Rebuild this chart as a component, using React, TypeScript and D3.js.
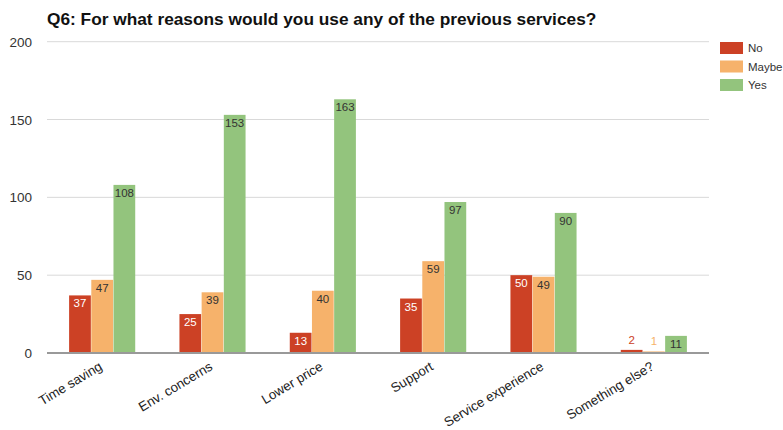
import React from "react";
import * as d3 from "d3";

const categories = ["Time saving", "Env. concerns", "Lower price", "Support", "Service experience", "Something else?"];
const seriesNames = ["No", "Maybe", "Yes"];
const noValues = [37, 25, 13, 35, 50, 2];
const maybeValues = [47, 39, 40, 59, 49, 1];
const yesValues = [108, 153, 163, 97, 90, 11];
const yTicks = [0, 50, 100, 150, 200];
const colors = ["#cc4125", "#f6b26b", "#93c47d"];
const labelColorsInside = ["#ffffff", "#333333", "#333333"];

export default function App() {
  const W = 783, H = 430;
  const left = 47, right = 709, top = 41.7, bottom = 353;
  const x = d3.scaleBand<string>().domain(categories).range([left, right]).paddingInner(0).paddingOuter(0);
  const inner = d3.scaleBand<string>().domain(seriesNames).range([0, 67]).padding(0.02);
  const y = d3.scaleLinear().domain([0, 200]).range([bottom, top]);
  const series = [noValues, maybeValues, yesValues];
  const font = "Arial, 'Liberation Sans', sans-serif";

  return (
    <svg width={W} height={H} style={{ position: "absolute", left: 0, top: 0, background: "#fff" }} fontFamily={font}>
      <rect x={0} y={0} width={W} height={H} fill="#fff" />
      <text x={47} y={25} fontSize={17.3} fontWeight="bold" fill="#111">
        Q6: For what reasons would you use any of the previous services?
      </text>
      {yTicks.map((t) => (
        <g key={t}>
          {t !== 0 && <line x1={left} x2={right} y1={y(t)} y2={y(t)} stroke="#d9d9d9" strokeWidth={1} />}
          <text x={32} y={y(t) + 5} fontSize={13.5} textAnchor="end" fill="#333">{t}</text>
        </g>
      ))}
      {categories.map((c, i) => {
        const cx = x(c)! + x.bandwidth() / 2;
        const gx = cx - 33.5;
        return (
          <g key={c}>
            {series.map((vals, s) => {
              const v = vals[i];
              const bx = gx + inner(seriesNames[s])!;
              const bw = inner.bandwidth();
              const by = y(v);
              const small = bottom - by < 14;
              return (
                <g key={s}>
                  <rect x={bx} y={by} width={bw} height={bottom - by} fill={colors[s]} />
                  <text
                    x={bx + bw / 2}
                    y={small ? by - 6 : by + 12}
                    fontSize={11.5}
                    textAnchor="middle"
                    fill={small ? colors[s] : labelColorsInside[s]}
                  >
                    {v}
                  </text>
                </g>
              );
            })}
            <text
              transform={`translate(${cx + 1},${bottom + 16}) rotate(-31)`}
              fontSize={13.3}
              textAnchor="end"
              fill="#222"
            >
              {c}
            </text>
          </g>
        );
      })}
      <line x1={left} x2={right} y1={bottom} y2={bottom} stroke="#999" strokeWidth={2} />
      {seriesNames.map((n, s) => (
        <g key={n}>
          <rect x={720} y={42 + s * 18.5} width={23} height={12} fill={colors[s]} />
          <text x={748} y={52 + s * 18.5} fontSize={11.5} fill="#333">{n}</text>
        </g>
      ))}
    </svg>
  );
}
